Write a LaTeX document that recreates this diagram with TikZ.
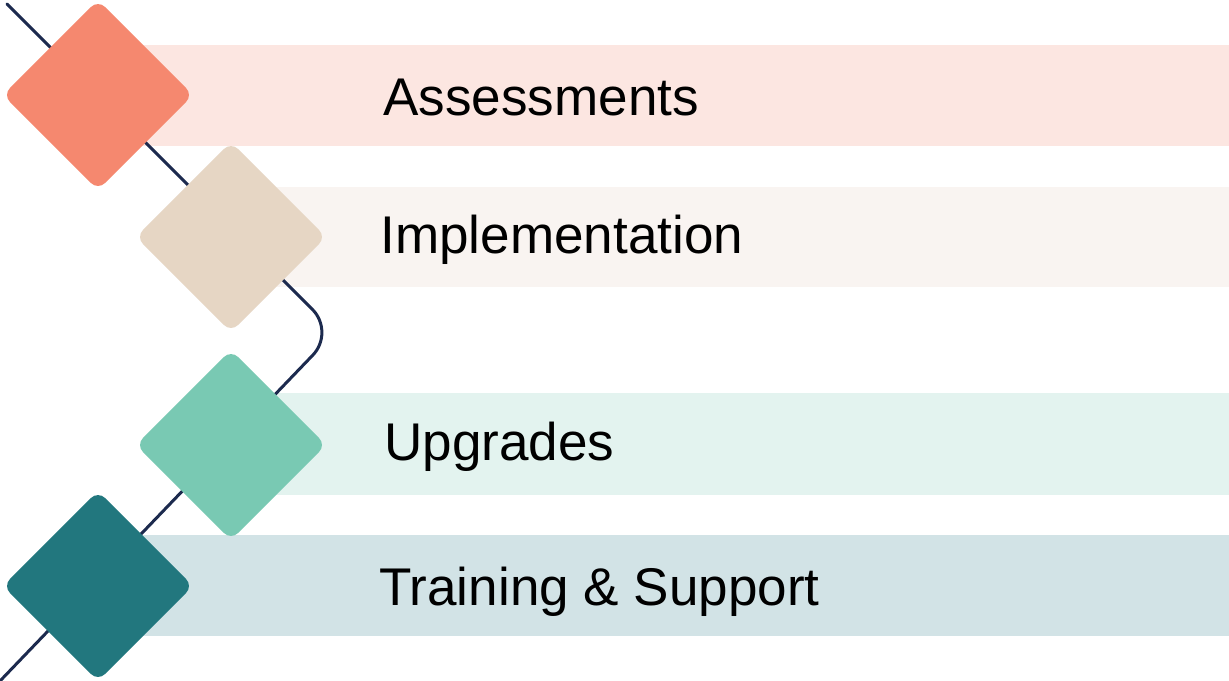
\documentclass[tikz,border=0pt]{standalone}
\usepackage{fontspec}
\setmainfont{Liberation Sans}
\definecolor{barA}{HTML}{FCE6E1}
\definecolor{barB}{HTML}{F9F4F1}
\definecolor{barC}{HTML}{E3F3EF}
\definecolor{barD}{HTML}{D2E3E6}
\definecolor{dA}{HTML}{F5886F}
\definecolor{dB}{HTML}{E6D6C4}
\definecolor{dC}{HTML}{79C9B3}
\definecolor{dD}{HTML}{22777E}
\definecolor{navy}{HTML}{1C2A4E}
\begin{document}
\begin{tikzpicture}[x=0.02cm,y=-0.02cm,
  gem/.style={rectangle,rotate=45,inner sep=0pt,minimum width=2.69cm,minimum height=2.69cm,rounded corners=0.2cm,draw=none},
  label/.style={anchor=base west,inner sep=0pt,font=\fontsize{30.2}{36}\selectfont,text=black},
  track/.style={draw=navy,line width=1.7pt,line cap=round,rounded corners=0.64cm}]
\useasboundingbox (0,0) rectangle (1229,680);
\fill[white] (0,0) rectangle (1229,680);
% bars
\fill[barA] (100,45) rectangle (1229,146);
\fill[barB] (231,187) rectangle (1229,287);
\fill[barC] (231,393) rectangle (1229,495);
\fill[barD] (100,535) rectangle (1229,636);
% track
\coordinate (s) at (7,4);
\coordinate (k) at (335,332);
\coordinate (e) at (0,681);
\draw[track] (s) -- (k) -- (e);
% diamonds
\node[gem,fill=dA] (d1) at (98,95) {};
\node[gem,fill=dB] (d2) at (231,237) {};
\node[gem,fill=dC] (d3) at (231,445) {};
\node[gem,fill=dD] (d4) at (98,586) {};
% labels
\node[label] (t1) at (383,115) {Assessments};
\node[label] (t2) at (380,253) {Implementation};
\node[label] (t3) at (384,460) {Upgrades};
\node[label] (t4) at (379,605) {Training \& Support};
\end{tikzpicture}
\end{document}
